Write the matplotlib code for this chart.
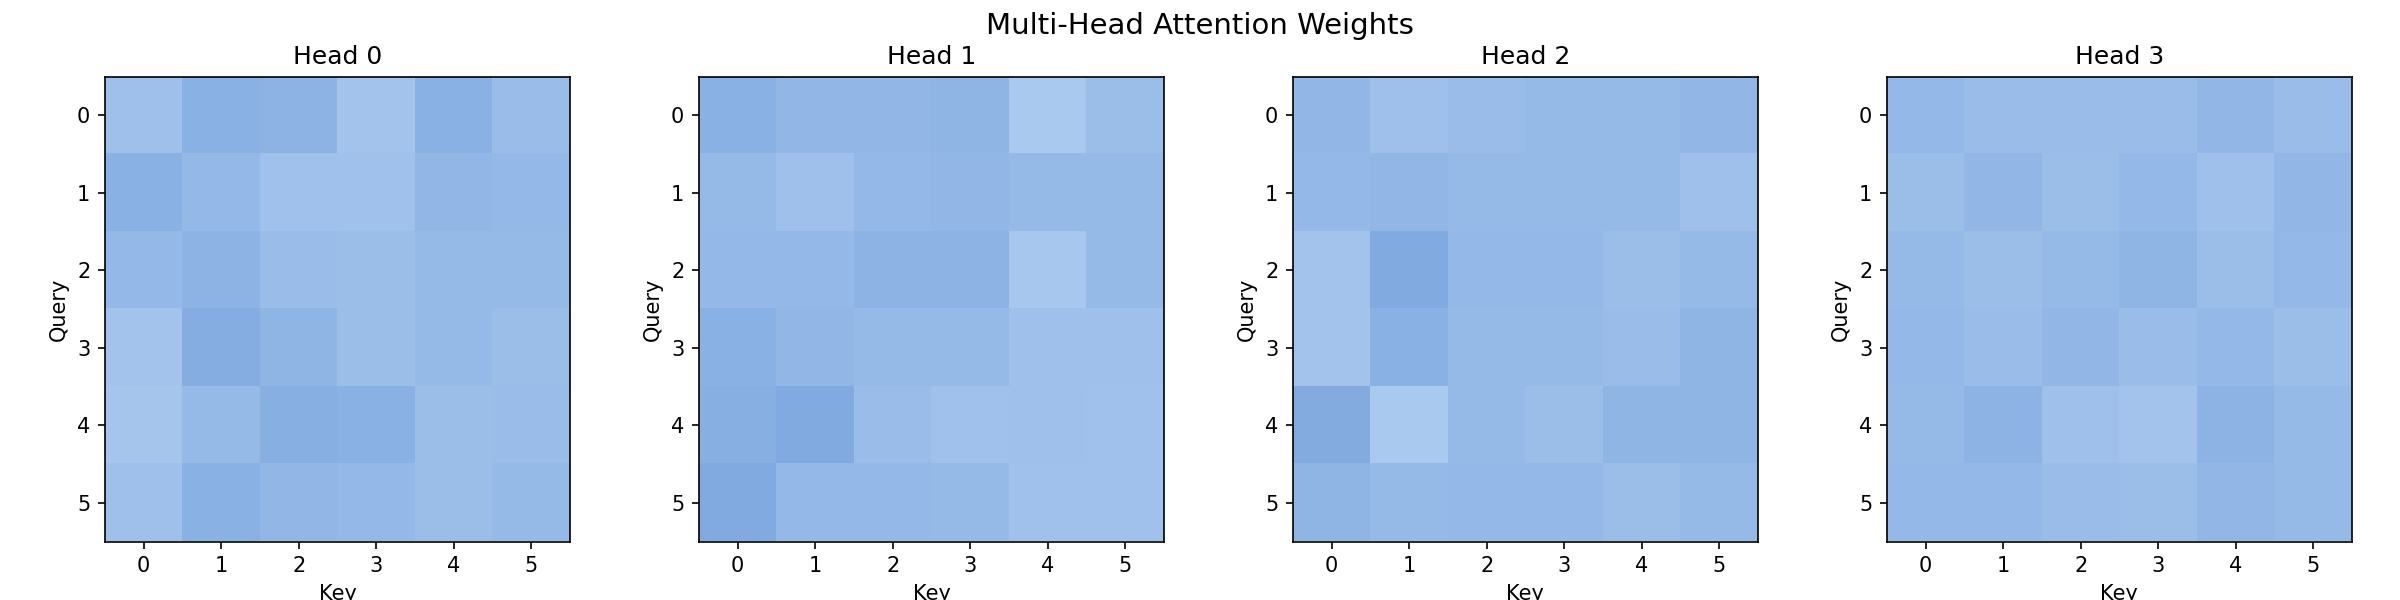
import numpy as np
from matplotlib import pyplot as plt
from matplotlib.colors import LinearSegmentedColormap

# attention weights, rows = query, cols = key
head0 = [[0.156, 0.204, 0.198, 0.144, 0.204, 0.168],
         [0.204, 0.180, 0.150, 0.150, 0.186, 0.180],
         [0.180, 0.198, 0.168, 0.162, 0.174, 0.174],
         [0.144, 0.216, 0.192, 0.162, 0.174, 0.162],
         [0.138, 0.174, 0.210, 0.204, 0.162, 0.168],
         [0.156, 0.204, 0.186, 0.180, 0.162, 0.174]]
head1 = [[0.204, 0.186, 0.186, 0.192, 0.126, 0.162],
         [0.174, 0.156, 0.180, 0.186, 0.174, 0.174],
         [0.180, 0.180, 0.198, 0.198, 0.132, 0.174],
         [0.204, 0.186, 0.174, 0.174, 0.156, 0.156],
         [0.210, 0.228, 0.168, 0.150, 0.156, 0.150],
         [0.228, 0.180, 0.180, 0.174, 0.150, 0.150]]
head2 = [[0.186, 0.156, 0.168, 0.174, 0.174, 0.186],
         [0.180, 0.186, 0.174, 0.174, 0.174, 0.156],
         [0.144, 0.228, 0.180, 0.180, 0.162, 0.174],
         [0.144, 0.204, 0.174, 0.174, 0.168, 0.192],
         [0.222, 0.126, 0.174, 0.162, 0.192, 0.192],
         [0.192, 0.174, 0.180, 0.180, 0.162, 0.174]]
head3 = [[0.180, 0.168, 0.168, 0.168, 0.186, 0.168],
         [0.162, 0.186, 0.162, 0.180, 0.156, 0.186],
         [0.174, 0.162, 0.174, 0.192, 0.162, 0.180],
         [0.180, 0.168, 0.186, 0.168, 0.180, 0.162],
         [0.174, 0.198, 0.156, 0.144, 0.198, 0.174],
         [0.180, 0.180, 0.168, 0.162, 0.186, 0.174]]
heads = [head0, head1, head2, head3]
ticks = [0, 1, 2, 3, 4, 5]

cmap = LinearSegmentedColormap.from_list('attn', ['#adcbf0', '#7ea8df'])

fig, axes = plt.subplots(1, 4, figsize=(16, 4), dpi=150)
for i, ax in enumerate(axes):
    ax.imshow(np.array(heads[i]), cmap=cmap, vmin=0.12, vmax=0.235)
    ax.set_title(f'Head {i}', fontsize=12)
    ax.set_xticks(ticks)
    ax.set_yticks(ticks)
    ax.set_xlabel('Key')
    ax.set_ylabel('Query')

fig.suptitle('Multi-Head Attention Weights', fontsize=14)
plt.subplots_adjust(left=0.0437, right=0.98, top=0.8725, bottom=0.0975, wspace=0.277)
plt.savefig('out.png', dpi=150)
